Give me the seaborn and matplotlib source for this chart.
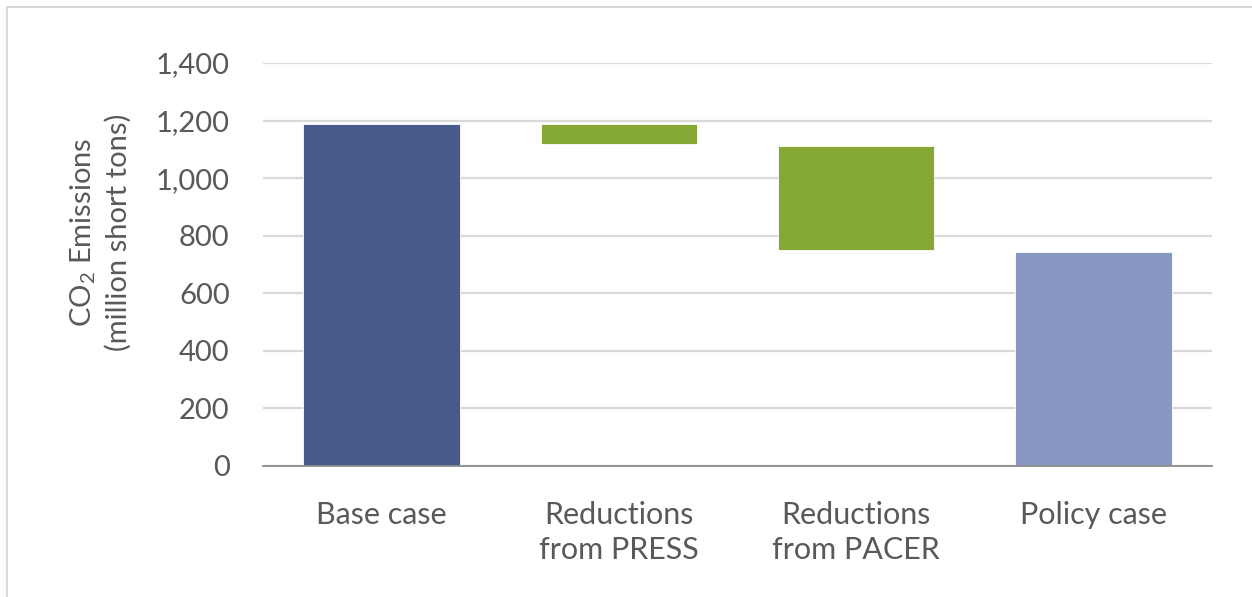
import matplotlib
matplotlib.use("Agg")
import matplotlib.pyplot as plt
import seaborn as sns
import pandas as pd
from matplotlib.patches import Rectangle

# Waterfall of CO2 emissions (million short tons)
categories = ["Base case", "Reductions\nfrom PRESS", "Reductions\nfrom PACER", "Policy case"]
bar_tops = [1189, 1189, 1113, 742]
bar_bottoms = [0, 1119, 749, 0]
bar_colors = ["#475a8a", "#84a833", "#84a833", "#8898c3"]
y_ticks = [0, 200, 400, 600, 800, 1000, 1200, 1400]

df = pd.DataFrame({
    "category": categories,
    "height": [t - b for t, b in zip(bar_tops, bar_bottoms)],
    "bottom": bar_bottoms,
})

sns.set_theme(style="white")
plt.rcParams["font.family"] = ["Lato", "DejaVu Sans"]
plt.rcParams["mathtext.fontset"] = "custom"
plt.rcParams["mathtext.rm"] = "Lato"
plt.rcParams["mathtext.it"] = "Lato:italic"
plt.rcParams["mathtext.bf"] = "Lato:bold"

text_color = "#595959"

fig = plt.figure(figsize=(12.52, 5.97), dpi=100)
ax = fig.add_axes([263 / 1252, 1 - 466 / 597, (1212 - 263) / 1252, (466 - 63) / 597])

# floating bars: each bar starts at its own bottom value
sns.barplot(data=df, x="category", y="height", bottom=list(df["bottom"]),
            color=bar_colors[0], width=0.66, saturation=1, ax=ax,
            edgecolor="white", linewidth=0.6, zorder=3)
for patch, color in zip(ax.patches, bar_colors):
    patch.set_facecolor(color)

ax.set_ylim(0, 1400)
ax.set_yticks(y_ticks)
ax.set_yticklabels([f"{v:,}" for v in y_ticks])
ax.yaxis.grid(True, color="#d9d9d9", linewidth=1.6, zorder=0)
ax.set_axisbelow(True)
for side in ["top", "right", "left"]:
    ax.spines[side].set_visible(False)
ax.spines["bottom"].set_color("#8c8c8c")
ax.spines["bottom"].set_linewidth(1.3)
ax.spines["bottom"].set_zorder(4)

ax.tick_params(axis="y", length=0, pad=24, labelsize=21, labelcolor=text_color)
ax.tick_params(axis="x", length=0, pad=25, labelsize=22, labelcolor=text_color)
for lbl in ax.get_xticklabels():
    lbl.set_linespacing(1.3)
ax.set_xlabel("")
ax.set_ylabel("CO$_2$ Emissions\n(million short tons)", fontsize=21, color=text_color,
              linespacing=1.35)
ax.yaxis.set_label_coords(-0.138, 0.58)

# light frame around the chart area
fig.patches.append(Rectangle((7 / 1252, -0.02), 1.2, 1 - 7 / 597 + 0.02,
                             transform=fig.transFigure, fill=False,
                             edgecolor="#d9d9d9", linewidth=1.5))

fig.savefig("out.png", dpi=100, facecolor="white")
